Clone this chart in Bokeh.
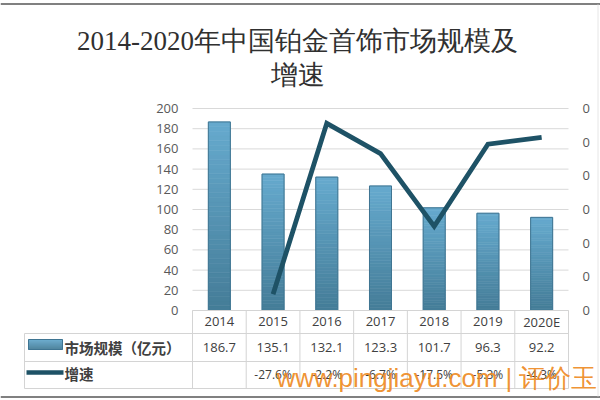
from bokeh.plotting import figure
from bokeh.models import Range1d, LinearAxis, FixedTicker, CustomJSTickFormatter
from bokeh.core.properties import value
from bokeh.embed import file_html
from bokeh.resources import INLINE

# ---------------- data ----------------
title_lines = ["2014-2020年中国铂金首饰市场规模及", "增速"]
years = ["2014", "2015", "2016", "2017", "2018", "2019", "2020E"]
market = [186.7, 135.1, 132.1, 123.3, 101.7, 96.3, 92.2]          # 亿元
growth_years = ["2015", "2016", "2017", "2018", "2019", "2020E"]
growth = [-27.6, -2.2, -6.7, -17.5, -5.3, -4.3]                    # %
left_ticks = [0, 20, 40, 60, 80, 100, 120, 140, 160, 180, 200]
right_ticks = [-30, -25, -20, -15, -10, -5, 0]
right_tick_labels = ["0", "0", "0", "0", "0", "0", "0"]
series_names = ["市场规模（亿元）", "增速"]
watermark = ["www.pingjiayu.com", "| 评价玉"]

# ---------------- layout constants (pixels) ----------------
W, H = 600, 400
PLOT_L, PLOT_R = 192, 568      # plot area of the chart
PLOT_T, PLOT_B = 108, 310
N = len(years)
UNIT = (PLOT_R - PLOT_L) / N
LMIN, LMAX = left_ticks[0], left_ticks[-1]
RMIN, RMAX = right_ticks[0], right_ticks[-1]
BAR_W = 0.41
LINE_COLOR = "#1E5266"
BAR_TOP = (0x66, 0xAA, 0xCE)
BAR_BOT = (0x44, 0x7C, 0x97)
BAR_EDGE = "#3F7592"
GRID = "#D9D9D9"
TABLE_LINE = "#D4D4D4"
TXT = "#404040"


def px2x(px):
    return (px - PLOT_L) / UNIT


def py2y(py):
    return LMIN + (PLOT_B - py) * (LMAX - LMIN) / (PLOT_B - PLOT_T)


def py2r(py):
    return RMIN + (PLOT_B - py) * (RMAX - RMIN) / (PLOT_B - PLOT_T)


def mix(a, b, f):
    return "#%02x%02x%02x" % tuple(int(round(a[i] + (b[i] - a[i]) * f)) for i in range(3))


centers = [i + 0.5 for i in range(N)]
gcenters = [centers[years.index(y)] for y in growth_years]

p = figure(width=W, height=H, x_range=Range1d(px2x(0), px2x(W)),
           y_range=Range1d(py2y(H), py2y(0)), x_axis_location=None, y_axis_location=None,
           min_border=0, output_backend="svg", toolbar_location=None)
p.outline_line_color = None
p.grid.visible = False
p.extra_y_ranges = {"pct": Range1d(py2r(H), py2r(0))}


def style_axis(a):
    a.axis_line_color = None
    a.major_tick_line_color = None
    a.minor_tick_line_color = None
    a.major_tick_out = 0
    a.major_tick_in = 0
    a.major_label_standoff = 14
    a.major_label_text_font = "Open Sans"
    a.major_label_text_font_size = "13px"
    a.major_label_text_color = "#595959"


la = LinearAxis(ticker=FixedTicker(ticks=left_ticks), fixed_location=0, bounds=(LMIN, LMAX))
style_axis(la)
p.add_layout(la, "left")
ra = LinearAxis(y_range_name="pct", ticker=FixedTicker(ticks=right_ticks), fixed_location=N,
                bounds=(RMIN, RMAX),
                formatter=CustomJSTickFormatter(args=dict(labels=right_tick_labels),
                                                code="return labels[index];"))
style_axis(ra)
p.add_layout(ra, "right")

# horizontal gridlines of the chart, at the left-axis ticks
p.segment(x0=[0] * len(left_ticks), x1=[N] * len(left_ticks), y0=left_ticks, y1=left_ticks,
          line_color=GRID, line_width=1)

# gradient bars: slices of each bar, light at top, darker at bottom
NS = 40
sx, sb, st, sc = [], [], [], []
for c, v in zip(centers, market):
    for k in range(NS):
        sx.append(c)
        sb.append(v * k / NS)
        st.append(v * (k + 1) / NS)
        sc.append(mix(BAR_BOT, BAR_TOP, (k + 0.5) / NS))
p.vbar(x=sx, bottom=sb, top=st, width=BAR_W, fill_color=sc, line_color=sc, line_width=0.6)
p.vbar(x=centers, top=market, width=BAR_W, fill_color=None, line_color=BAR_EDGE, line_width=1)

p.line(x=gcenters, y=growth, y_range_name="pct", line_color=LINE_COLOR,
       line_width=4.8, line_join="miter")


def txt(xs, ys, texts, size, font="Open Sans", align="center", baseline="middle",
        color=TXT, style="normal", alpha=1.0):
    p.text(x=xs, y=ys, text=texts, text_align=align, text_baseline=baseline,
           text_font=value(font), text_font_size=value(size), text_color=color,
           text_font_style=style, text_alpha=alpha)


# frame lines of the picture
p.segment(x0=[px2x(0)] * 2, x1=[px2x(W)] * 2, y0=[py2y(3.5), py2y(396.5)],
          y1=[py2y(3.5), py2y(396.5)], line_color="#808080", line_width=2)
p.segment(x0=[px2x(597.5)], x1=[px2x(597.5)], y0=[py2y(4)], y1=[py2y(396)],
          line_color="#E6E6E6", line_width=1)

# title
txt([px2x(297)] * 2, [py2y(40), py2y(74)], title_lines, "27px", font="Liberation Serif",
    color="#303030")

# ---------------- data table ----------------
ROW0, ROW1, ROW2, ROW3 = 310, 333, 361, 388
TL = px2x(24)
x0s, y0s, x1s, y1s = [], [], [], []
for k in range(N + 1):
    x0s.append(k); x1s.append(k); y0s.append(py2y(ROW0)); y1s.append(py2y(ROW3))
x0s.append(0); x1s.append(N); y0s.append(py2y(ROW0)); y1s.append(py2y(ROW0))
for r in (ROW1, ROW2, ROW3):
    x0s.append(TL); x1s.append(N); y0s.append(py2y(r)); y1s.append(py2y(r))
x0s.append(TL); x1s.append(TL); y0s.append(py2y(ROW1)); y1s.append(py2y(ROW3))
p.segment(x0=x0s, y0=y0s, x1=x1s, y1=y1s, line_color=TABLE_LINE, line_width=1)

txt(centers, [py2y(321)] * N, years, "13px")
txt(centers, [py2y(347)] * N, [f"{v:.1f}" for v in market], "13px")
txt(gcenters, [py2y(374)] * len(growth), [f"{g:.1f}%" for g in growth], "12px")

# legend column
txt([px2x(64)] * 2, [py2y(347), py2y(373)], series_names, "14.5px", font="Noto Sans CJK SC",
    align="left", style="bold")
NSW = 10
qt = [py2y(339 + 10 * k / NSW) for k in range(NSW)]
qb = [py2y(339 + 10 * (k + 1) / NSW) for k in range(NSW)]
qc = [mix(BAR_TOP, BAR_BOT, (k + 0.5) / NSW) for k in range(NSW)]
p.quad(left=[px2x(28)] * NSW, right=[px2x(62)] * NSW, top=qt, bottom=qb, fill_color=qc,
       line_color=qc, line_width=0.5)
p.quad(left=[px2x(28)], right=[px2x(62)], top=[py2y(339)], bottom=[py2y(349)],
       fill_color=None, line_color=BAR_EDGE, line_width=1)
p.line(x=[px2x(26), px2x(63)], y=[py2y(372)] * 2, line_color=LINE_COLOR, line_width=4.5)

# watermark
txt([px2x(276), px2x(505)], [py2y(377)] * 2, watermark, "26px", font="Liberation Sans",
    align="left", baseline="alphabetic", color="#EE8A22", alpha=0.92)

open("out.html", "w").write(file_html(p, INLINE))
